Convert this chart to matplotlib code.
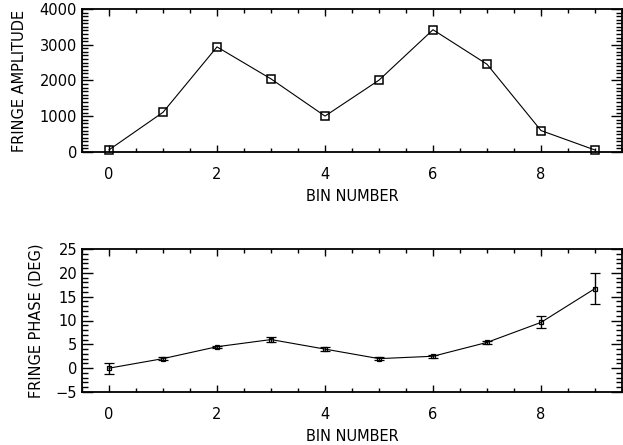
import matplotlib
matplotlib.use("Agg")
import matplotlib.pyplot as plt
from matplotlib.ticker import MultipleLocator

# data
bins = [0, 1, 2, 3, 4, 5, 6, 7, 8, 9]
amplitude = [60, 1110, 2940, 2045, 1005, 2010, 3420, 2455, 600, 55]
phase = [0.0, 2.0, 4.5, 6.0, 4.0, 2.0, 2.5, 5.4, 9.6, 16.7]
phase_err = [1.15, 0.3, 0.25, 0.5, 0.4, 0.25, 0.3, 0.4, 1.25, 3.3]

plt.rcParams['font.family'] = ['DejaVu Sans']
fs = 10.5

fig = plt.figure(figsize=(6.23, 4.45), dpi=100)
ax1 = fig.add_axes([82 / 623, 1 - 152 / 445, 540 / 623, 143 / 445])
ax2 = fig.add_axes([82 / 623, 1 - 392 / 445, 540 / 623, 143 / 445])


def style(ax, ymaj, ymin):
    ax.set_xlim(-0.5, 9.5)
    ax.xaxis.set_major_locator(MultipleLocator(2))
    ax.xaxis.set_minor_locator(MultipleLocator(0.5))
    ax.yaxis.set_major_locator(MultipleLocator(ymaj))
    ax.yaxis.set_minor_locator(MultipleLocator(ymin))
    ax.tick_params(axis='x', which='major', direction='in', length=5, width=1,
                   top=True, bottom=True, pad=10.5, labelsize=fs)
    ax.tick_params(axis='x', which='minor', direction='in', length=2.9, width=1,
                   top=True, bottom=True)
    ax.tick_params(axis='y', which='major', direction='in', length=8, width=1,
                   left=True, right=True, pad=3.5, labelsize=fs)
    ax.tick_params(axis='y', which='minor', direction='in', length=4.3, width=1,
                   left=True, right=True)
    for s in ax.spines.values():
        s.set_linewidth(1.3)
    ax.set_xlabel('BIN NUMBER', fontsize=fs, labelpad=5)


# amplitude panel
ax1.plot(bins, amplitude, color='black', lw=0.8, marker='s', ms=5.8,
         mfc='none', mec='black', mew=1.1, clip_on=False)
ax1.set_ylim(0, 4000)
style(ax1, 1000, 100)
ax1.set_ylabel('FRINGE AMPLITUDE', fontsize=fs, labelpad=9)

# phase panel
ax2.errorbar(bins, phase, yerr=phase_err, color='black', lw=0.8, marker='s',
             ms=3.3, mfc='none', mec='black', mew=0.9, ecolor='black',
             elinewidth=1.0, capsize=3.4, capthick=1.4)
ax2.set_ylim(-5, 25)
style(ax2, 5, 1)
ax2.set_ylabel('FRINGE PHASE (DEG)', fontsize=fs, labelpad=9)

fig.savefig('out.png', dpi=100, facecolor='white')
